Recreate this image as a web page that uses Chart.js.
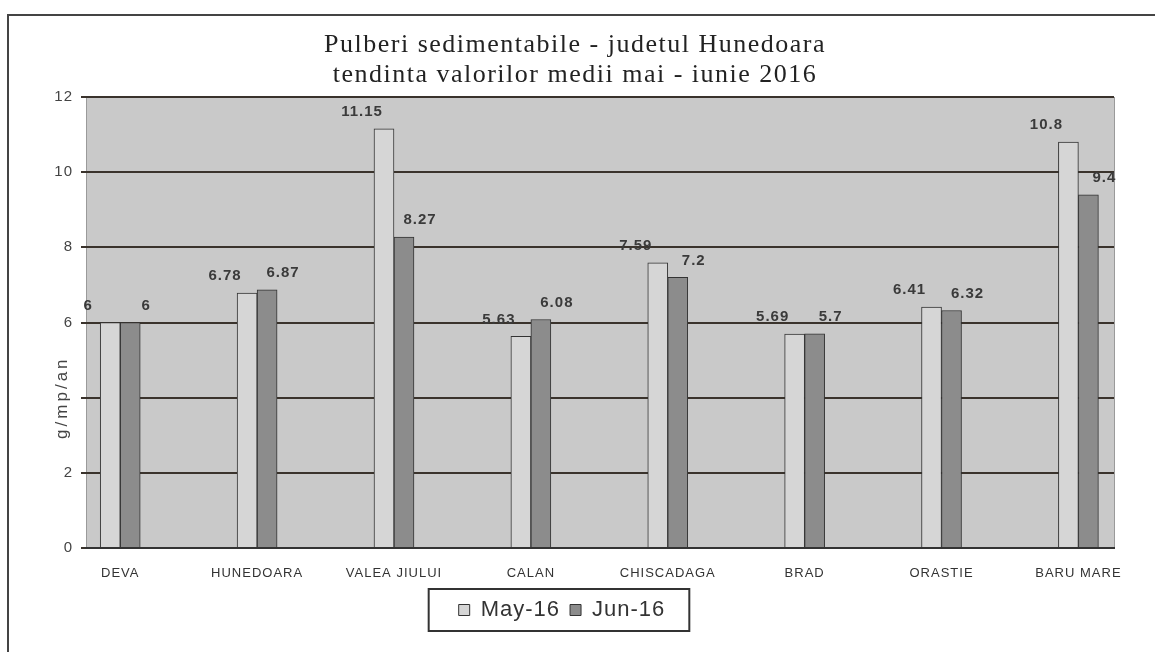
<!DOCTYPE html>
<html>
<head>
<meta charset="utf-8">
<script src="https://cdn.jsdelivr.net/npm/chart.js@4.4.0/dist/chart.umd.min.js"></script>
<style>
  html, body { margin: 0; background: #ffffff; }
  #wrap { width: 1155px; height: 652px; position: relative; }
</style>
</head>
<body>
<div id="wrap"><canvas id="chart"></canvas></div>
<script>
// values
const stations = ["DEVA", "HUNEDOARA", "VALEA JIULUI", "CALAN", "CHISCADAGA", "BRAD", "ORASTIE", "BARU MARE"];
const may16 = [6, 6.78, 11.15, 5.63, 7.59, 5.69, 6.41, 10.8];
const jun16 = [6, 6.87, 8.27, 6.08, 7.2, 5.7, 6.32, 9.4];
const seriesNames = ["May-16", "Jun-16"];
const titleLines = ["Pulberi sedimentabile - judetul Hunedoara", "tendinta valorilor medii mai - iunie 2016"];
const unitLabel = "g/mp/an";

const ink = "#333333";

// letter spacing on the canvas (the scanned text is wide)
const spacing = {
  id: "spacing",
  beforeLayout(chart) { chart.ctx.letterSpacing = "1px"; },
  beforeDraw(chart) { chart.ctx.letterSpacing = "1px"; }
};

// grey plot background, outer frame and title
const frame = {
  id: "frame",
  beforeDraw(chart) {
    const { ctx, chartArea: a } = chart;
    ctx.save();
    ctx.fillStyle = "#c9c9c9";
    ctx.fillRect(a.left, a.top, a.right - a.left, a.bottom - a.top);
    ctx.strokeStyle = "#9a9a9a";
    ctx.lineWidth = 1;
    ctx.strokeRect(a.left + 0.5, a.top + 0.5, a.right - a.left, a.bottom - a.top);

    ctx.strokeStyle = "#444";
    ctx.lineWidth = 2;
    ctx.beginPath();
    ctx.moveTo(8, 652);
    ctx.lineTo(8, 15);
    ctx.lineTo(1155, 15);
    ctx.stroke();

    ctx.fillStyle = "#222";
    ctx.font = "26px 'Liberation Serif', 'Times New Roman', serif";
    ctx.letterSpacing = "1.5px";
    ctx.textAlign = "center";
    ctx.textBaseline = "middle";
    ctx.fillText(titleLines[0], 575, 45);
    ctx.fillText(titleLines[1], 575, 75);
    ctx.restore();
  },
  afterDraw(chart) {
    const { ctx } = chart;
    ctx.save();
    // unit label over the axis
    const a = chart.chartArea;
    const y = chart.scales.y.getPixelForValue(4);
    ctx.translate(a.left - 24, y);
    ctx.rotate(-Math.PI / 2);
    ctx.font = "17px Arial, 'Liberation Sans', sans-serif";
    ctx.letterSpacing = "3px";
    const w = ctx.measureText(unitLabel).width;
    ctx.fillStyle = "#ffffff";
    ctx.fillRect(-w / 2 - 4, -10, w + 8, 20);
    ctx.fillStyle = "#444";
    ctx.textAlign = "center";
    ctx.textBaseline = "middle";
    ctx.fillText(unitLabel, 0, 0);
    ctx.restore();

    // legend box
    const boxes = chart.legend.legendHitBoxes;
    if (boxes && boxes.length) {
      const l = Math.min(...boxes.map(b => b.left)) - 30;
      const r = Math.max(...boxes.map(b => b.left + b.width)) + 24;
      const t = Math.min(...boxes.map(b => b.top)) - 10;
      const bt = Math.max(...boxes.map(b => b.top + b.height)) + 10;
      ctx.save();
      ctx.strokeStyle = "#333";
      ctx.lineWidth = 2;
      ctx.strokeRect(l, t, r - l, bt - t);
      ctx.restore();
    }
  }
};

// value labels above the bars
const labelShift = [-22, 16];
const valueLabels = {
  id: "valueLabels",
  afterDatasetsDraw(chart) {
    const { ctx } = chart;
    ctx.save();
    ctx.font = "bold 15px Arial, 'Liberation Sans', sans-serif";
    ctx.letterSpacing = "1px";
    ctx.fillStyle = "#3a3a3a";
    ctx.textAlign = "center";
    ctx.textBaseline = "middle";
    chart.data.datasets.forEach((ds, di) => {
      chart.getDatasetMeta(di).data.forEach((el, i) => {
        ctx.fillText(String(ds.data[i].y), el.x + labelShift[di], el.y - 17);
      });
    });
    ctx.restore();
  }
};

const toPoints = arr => arr.map((v, i) => ({ x: i, y: v }));

new Chart(document.getElementById("chart"), {
  type: "bar",
  plugins: [spacing, frame, valueLabels],
  data: {
    datasets: [
      {
        label: seriesNames[0],
        data: toPoints(may16),
        backgroundColor: "#d6d6d6",
        borderColor: "#333333",
        borderWidth: 1,
        borderSkipped: "bottom",
        barThickness: 20
      },
      {
        label: seriesNames[1],
        data: toPoints(jun16),
        backgroundColor: "#8c8c8c",
        borderColor: "#333333",
        borderWidth: 1,
        borderSkipped: "bottom",
        barThickness: 20
      }
    ]
  },
  options: {
    responsive: true,
    maintainAspectRatio: false,
    animation: false,
    layout: { padding: { top: 97, left: 10, right: 41, bottom: 21 } },
    plugins: {
      title: { display: false },
      tooltip: { enabled: false },
      legend: {
        position: "bottom",
        labels: {
          color: ink,
          font: { family: "Arial, 'Liberation Sans', sans-serif", size: 22 },
          boxWidth: 11,
          boxHeight: 11,
          padding: 10
        }
      }
    },
    scales: {
      x: {
        type: "linear",
        offset: false,
        min: -0.25,
        max: 7.26,
        afterBuildTicks: scale => { scale.ticks = stations.map((_, i) => ({ value: i })); },
        afterFit: scale => { scale.height = 41; },
        grid: { display: false },
        border: { display: true, color: "#333", width: 2 },
        ticks: {
          color: ink,
          font: { family: "Arial, 'Liberation Sans', sans-serif", size: 13 },
          padding: 10,
          maxRotation: 0,
          autoSkip: false,
          callback: v => stations[v]
        }
      },
      y: {
        min: 0,
        max: 12,
        afterFit: scale => { scale.width = 76; },
        grid: { color: "#3a332c", lineWidth: 2, tickLength: 5 },
        border: { display: false },
        ticks: {
          stepSize: 2,
          color: "#444",
          padding: 8,
          font: { family: "Arial, 'Liberation Sans', sans-serif", size: 15 }
        }
      }
    }
  }
});
</script>
</body>
</html>
